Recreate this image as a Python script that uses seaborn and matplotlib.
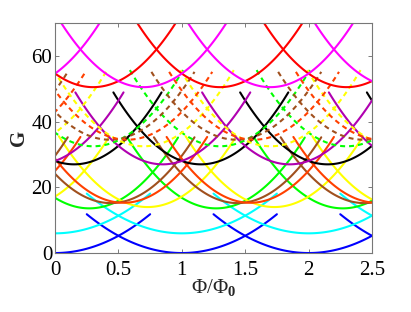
import numpy as np
import pandas as pd
import matplotlib
matplotlib.use("Agg")
import matplotlib.pyplot as plt
import seaborn as sns

# Parabola families: G = gmin + curv * (phi - n - shift)^2
# each arc drawn over shift+n +/- halfspan, repeated with period 1 in phi
colors   = ["#0000ff", "#00ffff", "#00ff00", "#ffff00", "#a0501e", "#ff4000",
            "#000000", "#b000b0", "#00ff00", "#ffff00", "#a0501e", "#ff4000",
            "#ff0000", "#ff00ff"]
styles   = ["-", "-", "-", "-", "-", "-", "-", "-", "--", "--", "--", "--", "-", "-"]
shifts   = [0.0, 0.0, 0.27, -0.27, 0.44, -0.46, 0.15, -0.15, 0.30, -0.30, 0.43, -0.43, 0.30, -0.30]
gmins    = [0.0, 6.0, 13.6, 14.0, 15.2, 15.3, 27.0, 27.0, 32.5, 32.5, 34.5, 34.5, 50.5, 50.5]
curvs    = [21.0, 21.5, 44, 44, 46, 46, 46, 46, 46, 46, 46, 46, 46, 46]
halfspan = [0.75, 0.75, 0.70, 0.70, 0.66, 0.66, 0.69, 0.69, 0.71, 0.71, 0.67, 0.67, 0.8, 0.8]
periods  = [-1, 0, 1, 2, 3]

xticks = [0, 0.5, 1, 1.5, 2, 2.5]
xticklabels = ["0", "0.5", "1", "1.5", "2", "2.5"]
yticks = [0, 20, 40, 60]

sns.set_style("ticks")
plt.rcParams["font.family"] = ["Liberation Serif", "DejaVu Serif"]
plt.rcParams["mathtext.fontset"] = "custom"
plt.rcParams["mathtext.rm"] = "Liberation Serif"
plt.rcParams["mathtext.bf"] = "Liberation Serif:bold"

fig = plt.figure(figsize=(4.11, 3.12), dpi=100)
ax = fig.add_axes([0.134, 0.189, 0.771, 0.737])

for k in range(len(colors)):
    rows = []
    for n in periods:
        c = n + shifts[k]
        phi = np.linspace(c - halfspan[k], c + halfspan[k], 120)
        g = gmins[k] + curvs[k] * (phi - c) ** 2
        rows.append(pd.DataFrame({"phi": phi, "G": g, "arc": n}))
    df = pd.concat(rows, ignore_index=True)
    sns.lineplot(data=df, x="phi", y="G", units="arc", estimator=None, sort=False,
                 color=colors[k], linestyle=styles[k], linewidth=1.5, ax=ax)
    if styles[k] == "--":
        for ln in ax.lines[-len(periods):]:
            ln.set_dashes((2.4, 1.9))

ax.set_xlim(0, 2.5)
ax.set_ylim(0, 70)
ax.set_xticks(xticks)
ax.set_xticklabels(xticklabels)
ax.set_yticks(yticks)
ax.tick_params(direction="in", top=True, right=True, labelsize=15, length=3,
               width=0.6, colors="#666666", labelcolor="black")
ax.tick_params(axis="x", pad=6)
ax.tick_params(axis="y", pad=2)
for s in ax.spines.values():
    s.set_color("#777777")
    s.set_linewidth(0.8)

ax.set_xlabel(r"$\mathrm{\Phi/\Phi}_{\mathbf{0}}$", fontsize=15, labelpad=-2)
ax.set_ylabel("G", fontsize=15, fontweight="bold", labelpad=2)

fig.savefig("out.png", dpi=100)
